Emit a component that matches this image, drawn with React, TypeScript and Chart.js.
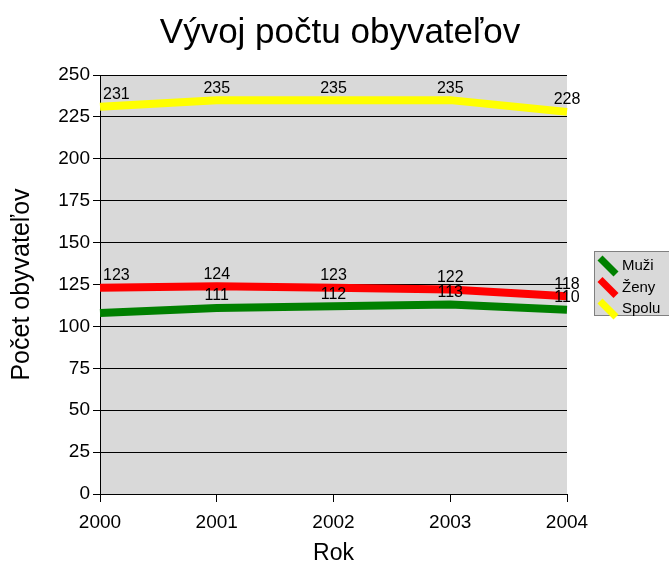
import React, { useEffect, useRef } from "react";
import { Chart, registerables } from "chart.js";
Chart.register(...registerables);

const years = ["2000", "2001", "2002", "2003", "2004"];
const muzi = [108, 111, 112, 113, 110];
const zeny = [123, 124, 123, 122, 118];
const spolu = [231, 235, 235, 235, 228];
// value labels shown per series (the 2000 "Muži" label is hidden in the original)
const muziLabelShown = [false, true, true, true, true];
const zenyLabelShown = [true, true, true, true, true];
const spoluLabelShown = [true, true, true, true, true];
const seriesNames = ["Muži", "Ženy", "Spolu"];
const seriesColors = ["#008000", "#ff0000", "#ffff00"];
const yMin = 0;
const yMax = 250;
const yStep = 25;
const titleText = "Vývoj počtu obyvateľov";
const xTitle = "Rok";
const yTitle = "Počet obyvateľov";

const FONT = "'Liberation Sans', Arial, sans-serif";

const decorPlugin = {
  id: "decor",
  beforeDraw(chart: any) {
    const { ctx, chartArea: a } = chart;
    ctx.save();
    ctx.fillStyle = "#ffffff";
    ctx.fillRect(0, 0, chart.width, chart.height);
    ctx.fillStyle = "#d9d9d9";
    ctx.fillRect(a.left, a.top, a.right - a.left, a.bottom - a.top);
    ctx.restore();
  },
  afterDatasetsDraw(chart: any) {
    const { ctx } = chart;
    ctx.save();
    ctx.font = `16px ${FONT}`;
    ctx.fillStyle = "#000";
    ctx.textBaseline = "middle";
    chart.data.datasets.forEach((ds: any, i: number) => {
      const meta = chart.getDatasetMeta(i);
      meta.data.forEach((pt: any, j: number) => {
        if (!ds.labelShown[j]) return;
        const v = ds.data[j];
        if (j === 0) {
          ctx.textAlign = "left";
          ctx.fillText(String(v), pt.x + 3, pt.y - 12);
        } else {
          ctx.textAlign = "center";
          ctx.fillText(String(v), pt.x, pt.y - 12);
        }
      });
    });
    ctx.restore();
  },
  afterDraw(chart: any) {
    const { ctx, chartArea: a } = chart;
    ctx.save();
    ctx.fillStyle = "#000";
    ctx.textAlign = "center";
    ctx.textBaseline = "middle";
    ctx.font = `35px ${FONT}`;
    ctx.fillText(titleText, 340, 33);
    ctx.font = `23px ${FONT}`;
    ctx.fillText(xTitle, (a.left + a.right) / 2, 554);
    ctx.save();
    ctx.font = `25px ${FONT}`;
    ctx.translate(22, (a.top + a.bottom) / 2);
    ctx.rotate(-Math.PI / 2);
    ctx.fillText(yTitle, 0, 0);
    ctx.restore();

    // legend
    const lx = 594.5, ly = 251.5, lw = 90, lh = 64;
    ctx.fillStyle = "#d9d9d9";
    ctx.fillRect(lx, ly, lw, lh);
    ctx.strokeStyle = "#808080";
    ctx.lineWidth = 1;
    ctx.strokeRect(lx, ly, lw, lh);
    ctx.font = `15px ${FONT}`;
    ctx.textAlign = "left";
    seriesNames.forEach((name, i) => {
      const cy = 266 + i * 21.5;
      ctx.strokeStyle = seriesColors[i];
      ctx.lineWidth = 7;
      ctx.lineCap = "butt";
      ctx.beginPath();
      ctx.moveTo(600, cy - 8);
      ctx.lineTo(616, cy + 8);
      ctx.stroke();
      ctx.fillStyle = "#000";
      ctx.fillText(name, 622, cy);
    });
    ctx.restore();
  },
};

export default function App() {
  const ref = useRef<HTMLCanvasElement | null>(null);
  useEffect(() => {
    if (!ref.current) return;
    const shown = [muziLabelShown, zenyLabelShown, spoluLabelShown];
    const datasets = [muzi, zeny, spolu].map((d, i) => ({
      label: seriesNames[i],
      data: d,
      labelShown: shown[i],
      borderColor: seriesColors[i],
      backgroundColor: seriesColors[i],
      borderWidth: 8,
      pointRadius: 0,
      tension: 0,
      fill: false,
    }));
    const chart = new Chart(ref.current, {
      type: "line",
      data: { labels: years, datasets } as any,
      options: {
        responsive: false,
        animation: false,
        layout: { padding: { left: 0, top: 75, right: 102, bottom: 0 } },
        plugins: {
          legend: { display: false },
          title: { display: false },
          tooltip: { enabled: false },
        },
        scales: {
          x: {
            type: "category",
            offset: false,
            grid: {
              display: true,
              drawOnChartArea: false,
              drawTicks: true,
              tickLength: 8,
              color: "#000",
            },
            border: { display: true, color: "#000", width: 1 },
            ticks: {
              color: "#000",
              font: { family: FONT, size: 19 },
              padding: 9,
              maxRotation: 0,
            },
            afterFit: (s: any) => {
              s.height = 82;
            },
          },
          y: {
            min: yMin,
            max: yMax,
            grid: { color: "#000", tickLength: 7, drawTicks: true },
            border: { display: true, color: "#000", width: 1 },
            ticks: {
              stepSize: yStep,
              color: "#000",
              font: { family: FONT, size: 19 },
              padding: 3,
            },
            afterFit: (s: any) => {
              s.width = 100;
            },
          },
        },
      },
      plugins: [decorPlugin],
    });
    return () => chart.destroy();
  }, []);
  return (
    <div style={{ position: "absolute", left: 0, top: 0, width: 669, height: 576 }}>
      <canvas ref={ref} width={669} height={576} style={{ display: "block" }} />
    </div>
  );
}
